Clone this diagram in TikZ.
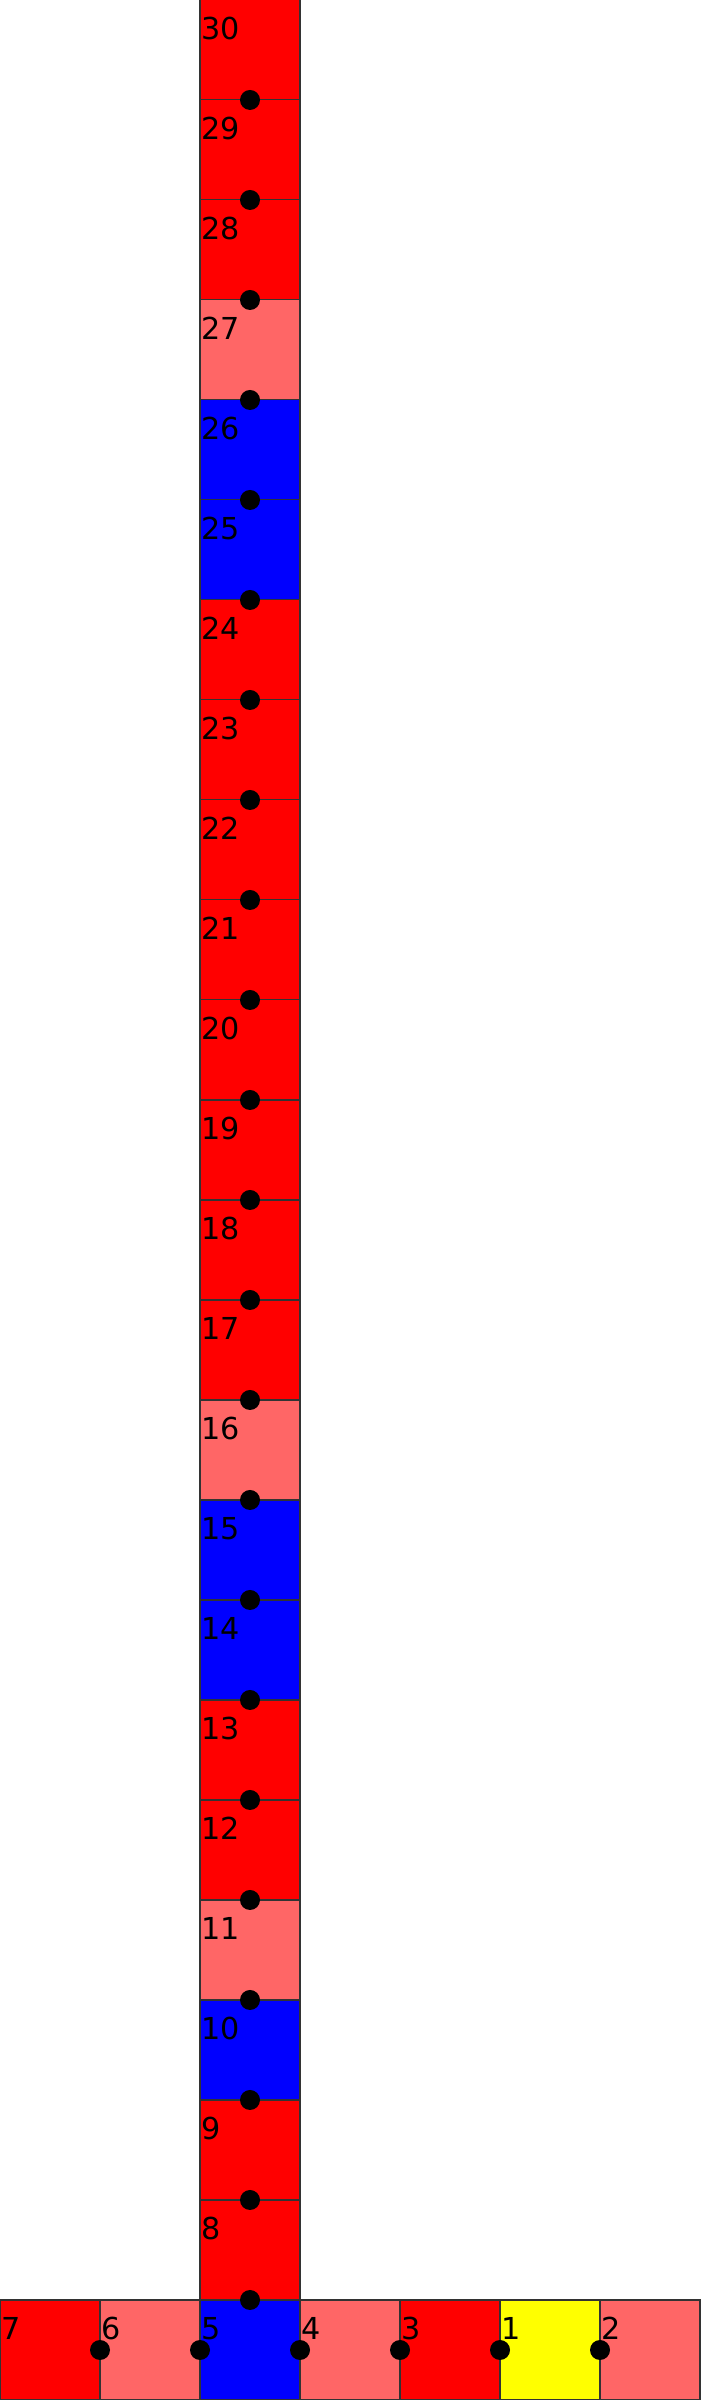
\documentclass[tikz,border=0pt]{standalone}
\usepackage{fontspec}
\setmainfont{DejaVu Sans}
\usepackage{tikz}
\usetikzlibrary{positioning}
\usepackage{xcolor}
\definecolor{Ink}{HTML}{000000}
\definecolor{Edge}{HTML}{333333}
\definecolor{CellRed}{HTML}{FF0000}
\definecolor{CellPink}{HTML}{FF6666}
\definecolor{CellBlue}{HTML}{0000FF}
\definecolor{CellYellow}{HTML}{FFFF00}

\begin{document}
\begin{tikzpicture}[x=1cm,y=1cm,
  cell/.style={draw=Edge,line width=0.3pt,minimum size=1cm,inner sep=0pt,outer sep=0pt},
  red/.style={cell,fill=CellRed},
  pink/.style={cell,fill=CellPink},
  blue/.style={cell,fill=CellBlue},
  yellow/.style={cell,fill=CellYellow},
  num/.style={anchor=base west,inner sep=0pt,text=Ink,font=\fontsize{8.6}{10}\selectfont},
  dot/.style={circle,fill=Ink,minimum size=0.2cm,inner sep=0pt}]
\useasboundingbox (0,0) rectangle (7,24);
% bottom row
\node[red]    (c7) at (0.5,0.5) {};
\node[pink]   (c6) at (1.5,0.5) {};
\node[blue]   (c5) at (2.5,0.5) {};
\node[pink]   (c4) at (3.5,0.5) {};
\node[red]    (c3) at (4.5,0.5) {};
\node[yellow] (c1) at (5.5,0.5) {};
\node[pink]   (c2) at (6.5,0.5) {};
% column
\node[red]  (c8)  at (2.5,1.5) {};
\node[red]  (c9)  at (2.5,2.5) {};
\node[blue] (c10) at (2.5,3.5) {};
\node[pink] (c11) at (2.5,4.5) {};
\node[red]  (c12) at (2.5,5.5) {};
\node[red]  (c13) at (2.5,6.5) {};
\node[blue] (c14) at (2.5,7.5) {};
\node[blue] (c15) at (2.5,8.5) {};
\node[pink] (c16) at (2.5,9.5) {};
\node[red]  (c17) at (2.5,10.5) {};
\node[red]  (c18) at (2.5,11.5) {};
\node[red]  (c19) at (2.5,12.5) {};
\node[red]  (c20) at (2.5,13.5) {};
\node[red]  (c21) at (2.5,14.5) {};
\node[red]  (c22) at (2.5,15.5) {};
\node[red]  (c23) at (2.5,16.5) {};
\node[red]  (c24) at (2.5,17.5) {};
\node[blue] (c25) at (2.5,18.5) {};
\node[blue] (c26) at (2.5,19.5) {};
\node[pink] (c27) at (2.5,20.5) {};
\node[red]  (c28) at (2.5,21.5) {};
\node[red]  (c29) at (2.5,22.5) {};
\node[red]  (c30) at (2.5,23.5) {};
% labels
\node[num] (n7) at (0.01,0.6) {7};
\node[num] (n6) at (1.01,0.6) {6};
\node[num] (n5) at (2.01,0.6) {5};
\node[num] (n4) at (3.01,0.6) {4};
\node[num] (n3) at (4.01,0.6) {3};
\node[num] (n1) at (5.01,0.6) {1};
\node[num] (n2) at (6.01,0.6) {2};
\node[num] (n8)  at (2.01,1.6) {8};
\node[num] (n9)  at (2.01,2.6) {9};
\node[num] (n10) at (2.01,3.6) {10};
\node[num] (n11) at (2.01,4.6) {11};
\node[num] (n12) at (2.01,5.6) {12};
\node[num] (n13) at (2.01,6.6) {13};
\node[num] (n14) at (2.01,7.6) {14};
\node[num] (n15) at (2.01,8.6) {15};
\node[num] (n16) at (2.01,9.6) {16};
\node[num] (n17) at (2.01,10.6) {17};
\node[num] (n18) at (2.01,11.6) {18};
\node[num] (n19) at (2.01,12.6) {19};
\node[num] (n20) at (2.01,13.6) {20};
\node[num] (n21) at (2.01,14.6) {21};
\node[num] (n22) at (2.01,15.6) {22};
\node[num] (n23) at (2.01,16.6) {23};
\node[num] (n24) at (2.01,17.6) {24};
\node[num] (n25) at (2.01,18.6) {25};
\node[num] (n26) at (2.01,19.6) {26};
\node[num] (n27) at (2.01,20.6) {27};
\node[num] (n28) at (2.01,21.6) {28};
\node[num] (n29) at (2.01,22.6) {29};
\node[num] (n30) at (2.01,23.6) {30};
% dots on the shared edges
\node[dot] (d76) at (1,0.5) {};
\node[dot] (d65) at (2,0.5) {};
\node[dot] (d54) at (3,0.5) {};
\node[dot] (d43) at (4,0.5) {};
\node[dot] (d31) at (5,0.5) {};
\node[dot] (d12) at (6,0.5) {};
\node[dot] (d5)  at (2.5,1) {};
\node[dot] (d8)  at (2.5,2) {};
\node[dot] (d9)  at (2.5,3) {};
\node[dot] (d10) at (2.5,4) {};
\node[dot] (d11) at (2.5,5) {};
\node[dot] (d12b) at (2.5,6) {};
\node[dot] (d13) at (2.5,7) {};
\node[dot] (d14) at (2.5,8) {};
\node[dot] (d15) at (2.5,9) {};
\node[dot] (d16) at (2.5,10) {};
\node[dot] (d17) at (2.5,11) {};
\node[dot] (d18) at (2.5,12) {};
\node[dot] (d19) at (2.5,13) {};
\node[dot] (d20) at (2.5,14) {};
\node[dot] (d21) at (2.5,15) {};
\node[dot] (d22) at (2.5,16) {};
\node[dot] (d23) at (2.5,17) {};
\node[dot] (d24) at (2.5,18) {};
\node[dot] (d25) at (2.5,19) {};
\node[dot] (d26) at (2.5,20) {};
\node[dot] (d27) at (2.5,21) {};
\node[dot] (d28) at (2.5,22) {};
\node[dot] (d29) at (2.5,23) {};
\end{tikzpicture}
\end{document}
